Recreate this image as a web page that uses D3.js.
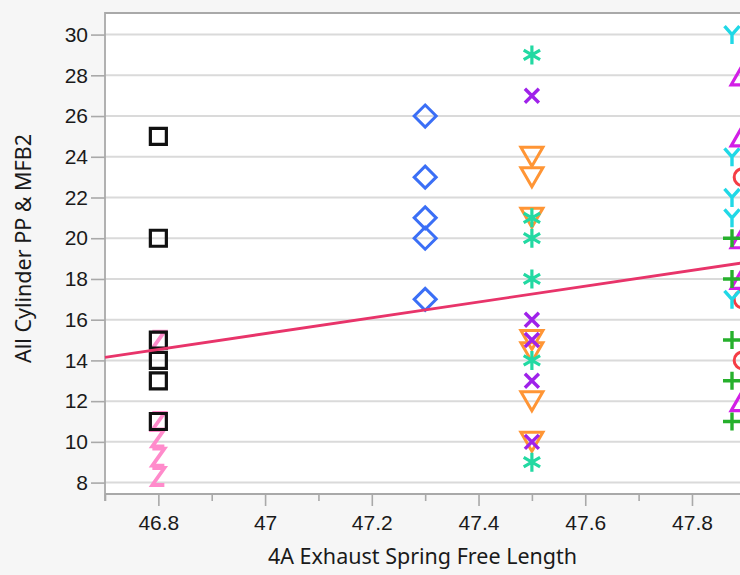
<!DOCTYPE html>
<html lang="en">
<head>
<meta charset="utf-8">
<title>Spring length scatter</title>
<script src="https://d3js.org/d3.v7.min.js"></script>
<style>
body { margin: 0; background: #f6f6f6; }
svg { display: block; font-family: "Noto Sans", "Open Sans", sans-serif; }
</style>
</head>
<body>
<div id="chart"></div>
<script>
var width = 740;
var height = 575;

// x positions of the columns
var colA = 46.8;
var colB = 47.3;
var colC = 47.5;
var colD = 47.875;
var colE = 47.895;

// y values per marker type
var squareY = [25, 20, 15, 14, 13, 11];
var zigY = [15, 11, 10.2, 9.25, 8.3];
var diamondY = [26, 23, 21, 20, 17];
var downTriY = [24, 23, 21, 15, 14.4, 12, 10];
var crossY = [27, 16, 15, 13, 10];
var starY = [29, 21, 20, 18, 14, 9];
var circleY = [23, 17, 14];
var ySymY = [30, 24, 22, 21, 17];
var upTriY = [28, 25, 20, 18, 12];
var plusY = [20, 18, 15, 13, 11];

// fitted line ends
var fitX = [46.7, 47.9];
var fitY = [14.15, 18.81];

var xTicks = [46.8, 47, 47.2, 47.4, 47.6, 47.8];
var xMinor = [46.7, 46.9, 47.1, 47.3, 47.5, 47.7];
var yTicks = [8, 10, 12, 14, 16, 18, 20, 22, 24, 26, 28, 30];

var pLeft = 105, pTop = 13, pBottom = 494, pRight = 740;

var x = d3.scaleLinear().domain([46.7, 47.89]).range([pLeft, pRight]);
var y = d3.scaleLinear().domain([7.44, 31.06]).range([pBottom, pTop]);

var svg = d3.select("#chart").append("svg")
    .attr("width", width)
    .attr("height", height);

svg.append("rect")
    .attr("x", pLeft).attr("y", pTop)
    .attr("width", pRight - pLeft + 10).attr("height", pBottom - pTop)
    .attr("fill", "#fff");

// gridlines
svg.append("g").selectAll("line").data(yTicks).join("line")
    .attr("x1", pLeft).attr("x2", pRight)
    .attr("y1", d => y(d)).attr("y2", d => y(d))
    .attr("stroke", "#dadada").attr("stroke-width", 2);

// frame
svg.append("path")
    .attr("d", "M" + (pRight + 5) + "," + pTop + "H" + pLeft + "V" + (pBottom + 7))
    .attr("fill", "none").attr("stroke", "#a9a9a9").attr("stroke-width", 1.8);
svg.append("line")
    .attr("x1", pLeft).attr("x2", pRight)
    .attr("y1", pBottom).attr("y2", pBottom)
    .attr("stroke", "#a9a9a9").attr("stroke-width", 1.8);

// axes
svg.append("g")
    .attr("transform", "translate(0," + pBottom + ")")
    .call(d3.axisBottom(x).tickValues(xTicks).tickSize(12).tickPadding(9)
        .tickFormat(d => String(+d.toFixed(1))));
svg.append("g")
    .attr("transform", "translate(0," + pBottom + ")")
    .call(d3.axisBottom(x).tickValues(xMinor).tickSize(7).tickFormat(""));

svg.append("g")
    .attr("transform", "translate(" + pLeft + ",0)")
    .call(d3.axisLeft(y).tickValues(yTicks).tickSize(14).tickPadding(3));

svg.selectAll(".domain").remove();
svg.selectAll(".tick line").attr("stroke", "#a9a9a9").attr("stroke-width", 1.6);
svg.selectAll(".tick text").attr("fill", "#1a1a1a").style("font-size", "21px");

// axis titles
svg.append("text")
    .attr("x", (pLeft + pRight) / 2).attr("y", 564)
    .attr("text-anchor", "middle").attr("fill", "#1a1a1a")
    .style("font-size", "21.5px")
    .text("4A Exhaust Spring Free Length");
svg.append("text")
    .attr("transform", "translate(31," + ((pTop + pBottom) / 2 - 5) + ") rotate(-90)")
    .attr("text-anchor", "middle").attr("fill", "#1a1a1a")
    .style("font-size", "21.5px")
    .text("All Cylinder PP & MFB2");

// marker shapes, centred on 0,0
var shapes = {
    square: "M-8,-8H8V8H-8Z",
    zig: "M-6,-8.5H6L-6,8.5H6",
    diamond: "M0,-11L11,0L0,11L-11,0Z",
    downTri: "M-11,-9.5H11L0,9.5Z",
    upTri: "M0,-10.5L11.5,9.5H-11.5Z",
    cross: "M-7,-7L7,7M7,-7L-7,7",
    star: "M0,-9.5V9.5M-8.2,-4.75L8.2,4.75M8.2,-4.75L-8.2,4.75",
    circle: "M-8.5,0A8.5,8.5 0 1,0 8.5,0A8.5,8.5 0 1,0 -8.5,0Z",
    ysym: "M0,0L-7.5,-8.5M0,0L7.5,-8.5M0,0V9.5",
    plus: "M-9,0H9M0,-9V9"
};

var series = [
    { x: colA, ys: zigY, shape: "zig", color: "#ff8bcb", w: 3.8 },
    { x: colA, ys: squareY, shape: "square", color: "#111", w: 3.2 },
    { x: colB, ys: diamondY, shape: "diamond", color: "#3b6ff6", w: 3 },
    { x: colC, ys: downTriY, shape: "downTri", color: "#ff9535", w: 3 },
    { x: colC, ys: crossY, shape: "cross", color: "#9f22ea", w: 3.4 },
    { x: colC, ys: starY, shape: "star", color: "#22d9a2", w: 3.2 },
    { x: colE, ys: circleY, shape: "circle", color: "#f53d45", w: 3 },
    { x: colD, ys: ySymY, shape: "ysym", color: "#20d8e6", w: 3.4 },
    { x: colE, ys: upTriY, shape: "upTri", color: "#d21fe6", w: 3.2 },
    { x: colD, ys: plusY, shape: "plus", color: "#26b02c", w: 3.4 }
];

series.forEach(function (s) {
    svg.append("g").selectAll("path").data(s.ys).join("path")
        .attr("transform", d => "translate(" + x(s.x) + "," + y(d) + ")")
        .attr("d", shapes[s.shape])
        .attr("fill", "none")
        .attr("stroke", s.color)
        .attr("stroke-width", s.w)
        .attr("stroke-linejoin", "miter");
});

// fit line
svg.append("line")
    .attr("x1", x(fitX[0])).attr("y1", y(fitY[0]))
    .attr("x2", x(fitX[1])).attr("y2", y(fitY[1]))
    .attr("stroke", "#e8346a").attr("stroke-width", 2.8);
</script>
</body>
</html>
